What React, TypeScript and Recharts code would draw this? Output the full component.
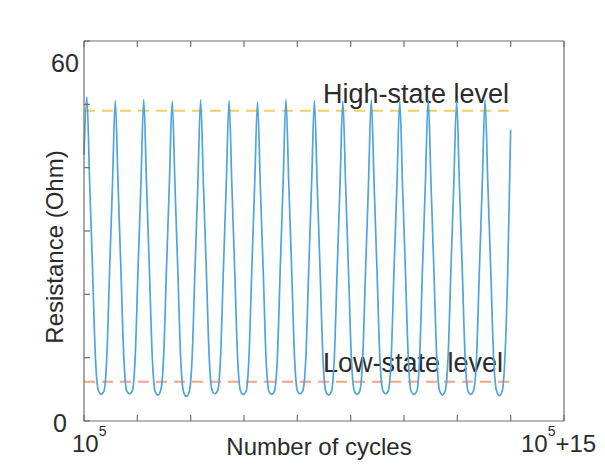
import React from "react";
import { Label, Line, LineChart, ReferenceLine, XAxis, YAxis } from "recharts";

// resistance (Ohm) sampled every 0.1 cycle, one row per cycle starting at the peak
const startValue = 42;
const cycleRows: number[][] = [
  [51.2, 37.5, 24.0, 10.2, 4.9, 4.2, 4.7, 10.0, 23.8, 37.2],
  [50.6, 37.0, 23.6, 10.0, 4.8, 4.3, 4.8, 10.1, 24.0, 37.3],
  [50.8, 37.2, 23.8, 10.1, 4.7, 4.1, 4.9, 10.2, 24.1, 37.4],
  [50.5, 37.0, 23.5, 9.8, 4.6, 3.9, 4.6, 9.9, 23.7, 37.1],
  [50.7, 37.1, 23.9, 10.2, 4.9, 4.3, 4.8, 10.0, 23.9, 37.2],
  [50.6, 36.9, 23.6, 10.0, 4.8, 4.2, 4.7, 10.1, 24.0, 37.3],
  [50.4, 37.0, 23.7, 9.9, 4.7, 4.2, 4.8, 10.2, 24.2, 37.5],
  [50.8, 37.3, 24.0, 10.2, 4.8, 4.3, 4.9, 10.1, 23.9, 37.2],
  [50.6, 37.1, 23.8, 10.0, 4.7, 4.1, 4.7, 10.0, 23.8, 37.1],
  [50.5, 36.9, 23.5, 9.9, 4.8, 4.2, 4.8, 10.1, 24.0, 37.3],
  [50.7, 37.2, 23.9, 10.1, 4.9, 4.3, 4.8, 10.0, 23.9, 37.2],
  [50.6, 37.0, 23.7, 10.0, 4.7, 4.2, 4.7, 10.1, 24.1, 37.4],
  [50.8, 37.3, 24.0, 10.2, 4.8, 4.1, 4.8, 10.2, 24.0, 37.3],
  [50.5, 37.0, 23.6, 9.9, 4.7, 4.2, 4.9, 10.0, 23.8, 37.2],
  [50.7, 37.1, 23.8, 10.1, 4.8, 4.0, 4.7, 10.1, 24.2, 46.0],
];
const resistance = [startValue, ...cycleRows.flat()];
const data = resistance.map((r, i) => ({ c: i / 10, r }));

const xTicks = [0, 1.875, 3.75, 5.625, 7.5, 9.375, 11.25, 13.125, 15, 16.875];
const yTicks = [0, 10, 20, 30, 40, 50, 60];
const highLevel = 49;
const lowLevel = 6.2;
const levelEnd = 15;

const font = "'Liberation Sans', Arial, Helvetica, sans-serif";
const textColor = "#2b2b2b";
const axisColor = "#6e6e6e";

const noTick = () => <g />;

const leftTick = (p: any) => {
  const v = p.payload.value;
  if (v === 60)
    return (
      <text x={65} y={72} textAnchor="middle" fontSize={25} fill={textColor} fontFamily={font}>
        60
      </text>
    );
  if (v === 0)
    return (
      <text x={60} y={432} textAnchor="middle" fontSize={25} fill={textColor} fontFamily={font}>
        0
      </text>
    );
  return <g />;
};

const bottomTick = (p: any) => {
  const v = p.payload.value;
  if (v === 0)
    return (
      <text x={72} y={452} fontSize={24} fill={textColor} fontFamily={font}>
        10
        <tspan dy={-16} fontSize={14}>5</tspan>
      </text>
    );
  if (v === 16.875)
    return (
      <text x={521} y={452} fontSize={24} fill={textColor} fontFamily={font}>
        10
        <tspan dy={-16} fontSize={14}>5</tspan>
        <tspan dy={16}>+15</tspan>
      </text>
    );
  return <g />;
};

export default function App() {
  return (
    <div style={{ position: "absolute", left: 0, top: 0, background: "#fff" }}>
      <LineChart
        width={605}
        height={466}
        data={data}
        margin={{ top: 41, right: 41, bottom: 45, left: 84 }}
      >
        <XAxis
          dataKey="c"
          type="number"
          domain={[0, 16.875]}
          ticks={xTicks}
          height={1}
          mirror
          tickSize={6}
          tick={bottomTick}
          stroke={axisColor}
          strokeWidth={1.2}
          interval={0}
        >
          <Label
            content={() => (
              <text x={319} y={455} textAnchor="middle" fontSize={24} fill={textColor} fontFamily={font}>
                Number of cycles
              </text>
            )}
          />
        </XAxis>
        <XAxis
          xAxisId="top"
          orientation="top"
          dataKey="c"
          type="number"
          domain={[0, 16.875]}
          ticks={xTicks}
          height={1}
          mirror
          tickSize={6}
          tick={noTick}
          stroke={axisColor}
          strokeWidth={1.2}
          interval={0}
        />
        <YAxis
          type="number"
          domain={[0, 60]}
          ticks={yTicks}
          width={1}
          mirror
          tickSize={6}
          tick={leftTick}
          stroke={axisColor}
          strokeWidth={1.2}
          interval={0}
        >
          <Label
            content={() => (
              <text
                x={63}
                y={247}
                transform="rotate(-90 63 247)"
                textAnchor="middle"
                fontSize={24}
                fill={textColor}
                fontFamily={font}
              >
                Resistance (Ohm)
              </text>
            )}
          />
        </YAxis>
        <YAxis
          yAxisId="right"
          orientation="right"
          type="number"
          domain={[0, 60]}
          ticks={yTicks}
          width={1}
          mirror
          tickSize={6}
          tick={noTick}
          stroke={axisColor}
          strokeWidth={1.2}
          interval={0}
        />
        <ReferenceLine
          segment={[
            { x: 0, y: highLevel },
            { x: levelEnd, y: highLevel },
          ]}
          stroke="#f0cf62"
          strokeWidth={2}
          strokeDasharray="11 7"
          label={() => (
            <text x={323} y={103} fontSize={27} fill={textColor} fontFamily={font}>
              High-state level
            </text>
          )}
        />
        <ReferenceLine
          segment={[
            { x: 0, y: lowLevel },
            { x: levelEnd, y: lowLevel },
          ]}
          stroke="#f0a585"
          strokeWidth={2}
          strokeDasharray="11 7"
          label={() => (
            <text x={323} y={372} fontSize={27} fill={textColor} fontFamily={font}>
              Low-state level
            </text>
          )}
        />
        <Line
          type="monotone"
          dataKey="r"
          stroke="#4ea4dc"
          strokeWidth={1.7}
          dot={false}
          isAnimationActive={false}
        />
      </LineChart>
    </div>
  );
}
